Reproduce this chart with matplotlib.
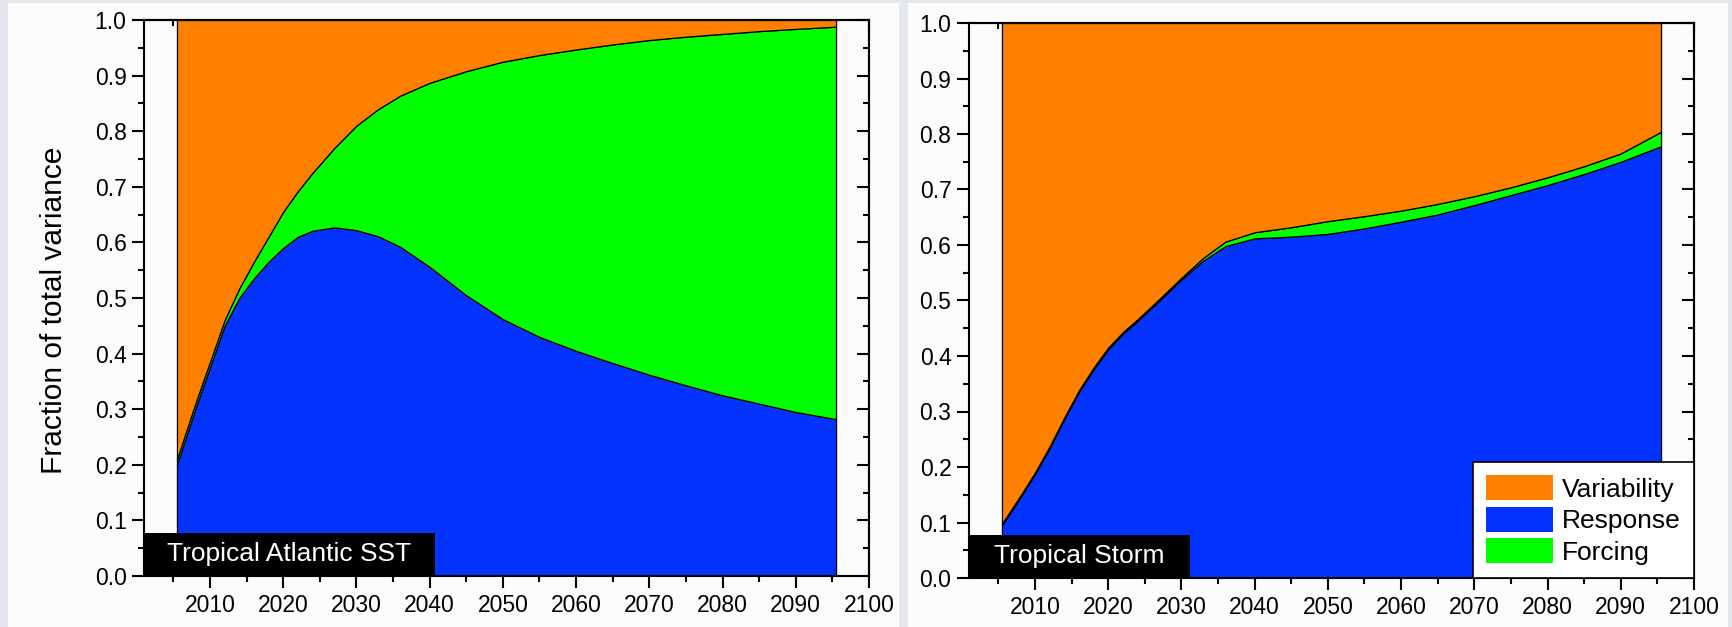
import matplotlib
matplotlib.use("Agg")
import matplotlib.pyplot as plt
from matplotlib.patches import Rectangle, Patch
from matplotlib.ticker import MultipleLocator

plt.rcParams['font.family'] = ['Liberation Sans', 'DejaVu Sans']

# years of the estimates
years = [2005.5, 2008, 2010, 2012, 2014, 2016, 2018, 2020, 2022, 2024, 2027, 2030,
         2033, 2036, 2040, 2045, 2050, 2055, 2060, 2065, 2070, 2075, 2080, 2085,
         2090, 2095.5]

# Tropical Atlantic SST: fraction of total variance
sst_response = [0.20, 0.30, 0.375, 0.45, 0.50, 0.535, 0.565, 0.59, 0.61, 0.621,
                0.627, 0.622, 0.611, 0.592, 0.556, 0.505, 0.462, 0.43, 0.405, 0.383,
                0.362, 0.343, 0.325, 0.31, 0.295, 0.282]
sst_forcing = [0.01, 0.01, 0.01, 0.01, 0.017, 0.03, 0.045, 0.065, 0.082, 0.104,
               0.143, 0.188, 0.229, 0.272, 0.331, 0.403, 0.463, 0.507, 0.542, 0.573,
               0.602, 0.627, 0.65, 0.67, 0.689, 0.706]

# Tropical Storm: fraction of total variance
ts_response = [0.095, 0.145, 0.187, 0.234, 0.286, 0.335, 0.376, 0.412, 0.44, 0.463,
               0.50, 0.538, 0.572, 0.598, 0.612, 0.615, 0.62, 0.63, 0.642, 0.655,
               0.672, 0.69, 0.708, 0.728, 0.75, 0.778]
ts_forcing = [0.003, 0.003, 0.003, 0.003, 0.003, 0.003, 0.003, 0.003, 0.003, 0.003,
              0.003, 0.003, 0.005, 0.008, 0.011, 0.017, 0.023, 0.022, 0.02, 0.019,
              0.016, 0.014, 0.014, 0.014, 0.015, 0.026]

titles = ['Tropical Atlantic SST', 'Tropical Storm']
title_box_end = [2040.75, 2031.2]
labels = ['Variability', 'Response', 'Forcing']

c_var = '#ff8000'
c_resp = '#0433ff'
c_forc = '#00ff00'
bg = '#e4e8ec'
panel = '#fcfcfc'

W, H = 1733, 627
fig = plt.figure(figsize=(W / 100, H / 100), dpi=100, facecolor=bg)

# white panels behind each chart
fig.add_artist(Rectangle((8 / W, 0), 891 / W, 624 / H, transform=fig.transFigure,
                         facecolor=panel, edgecolor='none', zorder=0))
fig.add_artist(Rectangle((908 / W, 0), 820 / W, 624 / H, transform=fig.transFigure,
                         facecolor=panel, edgecolor='none', zorder=0))

ax1 = fig.add_axes([144 / W, 1 - 576 / H, 725 / W, 556 / H])
ax2 = fig.add_axes([969 / W, 1 - 578 / H, 725 / W, 555 / H])

data = [(sst_response, sst_forcing), (ts_response, ts_forcing)]

for i, ax in enumerate([ax1, ax2]):
    resp, forc = data[i]
    var = [1 - r - f for r, f in zip(resp, forc)]
    ax.set_facecolor(panel)
    ax.stackplot(years, resp, forc, var, colors=[c_resp, c_forc, c_var],
                 edgecolor='black', linewidth=0.9)
    ax.set_xlim(2001, 2100)
    ax.set_ylim(0, 1)
    ax.xaxis.set_major_locator(MultipleLocator(10))
    ax.xaxis.set_minor_locator(MultipleLocator(5))
    ax.yaxis.set_major_locator(MultipleLocator(0.1))
    ax.yaxis.set_minor_locator(MultipleLocator(0.05))
    ax.set_xticks(range(2010, 2101, 10))
    ax.yaxis.set_major_formatter(plt.FormatStrFormatter('%.1f'))
    ax.tick_params(which='both', direction='out', width=1.5, labelsize=16.5, pad=4)
    ax.tick_params(which='major', length=8.6)
    ax.tick_params(which='minor', length=4.3)
    for s in ax.spines.values():
        s.set_linewidth(1.5)

    top = ax.secondary_xaxis('top')
    top.xaxis.set_major_locator(MultipleLocator(10))
    top.xaxis.set_minor_locator(MultipleLocator(5))
    top.tick_params(which='both', direction='in', width=1.5, labeltop=False)
    top.tick_params(which='major', length=8.6)
    top.tick_params(which='minor', length=4.3)
    top.spines['top'].set_linewidth(1.5)

    right = ax.secondary_yaxis('right')
    right.yaxis.set_major_locator(MultipleLocator(0.1))
    right.yaxis.set_minor_locator(MultipleLocator(0.05))
    right.tick_params(which='both', direction='in', width=1.5, labelright=False)
    right.tick_params(which='major', length=8.6)
    right.tick_params(which='minor', length=4.3)
    right.spines['right'].set_linewidth(1.5)

    # black label box in the lower left corner
    ax.add_patch(Rectangle((2001, 0), title_box_end[i] - 2001, 0.078,
                           facecolor='black', edgecolor='none', zorder=3, clip_on=False))
    ax.text((2001 + title_box_end[i]) / 2, 0.04, titles[i], color='white',
            fontsize=19, ha='center', va='center', zorder=4)

ax1.set_ylabel('Fraction of total variance', fontsize=21.5)
ax1.yaxis.set_label_coords(-0.105, 0.478)

handles = [Patch(facecolor=c_var, edgecolor='none'),
           Patch(facecolor=c_resp, edgecolor='none'),
           Patch(facecolor=c_forc, edgecolor='none')]
leg = ax2.legend(handles, labels, loc='lower right', bbox_to_anchor=(1, 0),
                 borderaxespad=0, fontsize=19, handlelength=2.54, handleheight=1.06,
                 labelspacing=0.2, handletextpad=0.34, borderpad=0.5,
                 fancybox=False, framealpha=1, facecolor='white', edgecolor='black')
leg.get_frame().set_linewidth(1.2)
leg.set_zorder(5)

fig.savefig('out.png', dpi=100, facecolor=bg)
